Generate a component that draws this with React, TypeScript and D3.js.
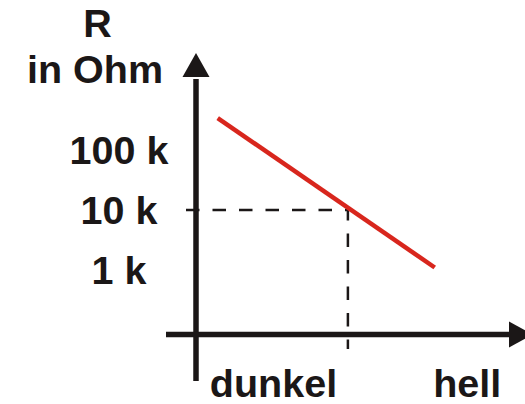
import React from "react";
import * as d3 from "d3";

// Schematic characteristic of a light-dependent resistor (LDR)
const brightness: number[] = [0.7, 7.7]; // relative brightness, arbitrary units
const resistance: number[] = [340000, 1100]; // R in Ohm
const yTickValues: number[] = [100000, 10000, 1000];
const yTickLabels: string[] = ["100 k", "10 k", "1 k"];
const xCategoryPos: number[] = [2.5, 8.75];
const xCategoryLabels: string[] = ["dunkel", "hell"];
const markerBrightness = 4.9;
const markerResistance = 10000;

const W = 525;
const H = 404;
const INK = "#1b1717";
const RED = "#d8261d";
const FONT = "'Liberation Sans', Arial, Helvetica, sans-serif";
const FS = 39.5;

export default function App() {
  const x = d3.scaleLinear().domain([0, 10]).range([196, 506]);
  const y = d3.scaleLog().domain([1000, 100000]).range([270, 150]);

  const x0 = x(0);
  const yAxisY = 334.5;

  const curve = d3
    .line<[number, number]>()
    .x((d) => x(d[0]))
    .y((d) => y(d[1]))(brightness.map((b, i) => [b, resistance[i]] as [number, number]));

  const mx = x(markerBrightness);
  const my = y(markerResistance);
  const dashPath = `M${x0 - 10},${my}H${mx}V${yAxisY + 14.5}`;

  // arrow geometry
  const yTop = 53;
  const yArrowBase = 77;
  const xArrowBase = 509;
  const xTip = 533;

  return (
    <svg
      width={W}
      height={H}
      style={{ position: "absolute", left: 0, top: 0, background: "#fff" }}
      fontFamily={FONT}
      fontWeight="bold"
    >
      {/* reference dashes for 10 k */}
      <path d={dashPath} fill="none" stroke={INK} strokeWidth={2.5} strokeDasharray="13.5 13" />

      {/* y axis with arrow */}
      <line x1={x0} y1={381} x2={x0} y2={yArrowBase + 2} stroke={INK} strokeWidth={5.5} />
      <path
        d={`M${x0},${yTop}L${x0 + 13.5},${yArrowBase}L${x0 - 13.5},${yArrowBase}Z`}
        fill={INK}
      />

      {/* x axis with arrow */}
      <line x1={166} y1={yAxisY} x2={xArrowBase + 2} y2={yAxisY} stroke={INK} strokeWidth={5.5} />
      <path
        d={`M${xTip},${yAxisY}L${xArrowBase},${yAxisY - 13}L${xArrowBase},${yAxisY + 13}Z`}
        fill={INK}
      />

      {/* characteristic curve */}
      <path d={curve ?? ""} fill="none" stroke={RED} strokeWidth={4.5} />

      {/* y tick labels */}
      {yTickValues.map((v, i) => (
        <text
          key={v}
          x={119}
          y={y(v)}
          dy="0.36em"
          textAnchor="middle"
          fontSize={FS}
          fill={INK}
        >
          {yTickLabels[i]}
        </text>
      ))}

      {/* axis titles */}
      <text x={97.5} y={37} textAnchor="middle" fontSize={FS} fill={INK}>
        R
      </text>
      <text x={95} y={83} textAnchor="middle" fontSize={FS} fill={INK}>
        in Ohm
      </text>

      {/* x category labels */}
      {xCategoryLabels.map((lab, i) => (
        <text
          key={lab}
          x={x(xCategoryPos[i])}
          y={396.5}
          textAnchor="middle"
          fontSize={FS}
          fill={INK}
        >
          {lab}
        </text>
      ))}
    </svg>
  );
}
